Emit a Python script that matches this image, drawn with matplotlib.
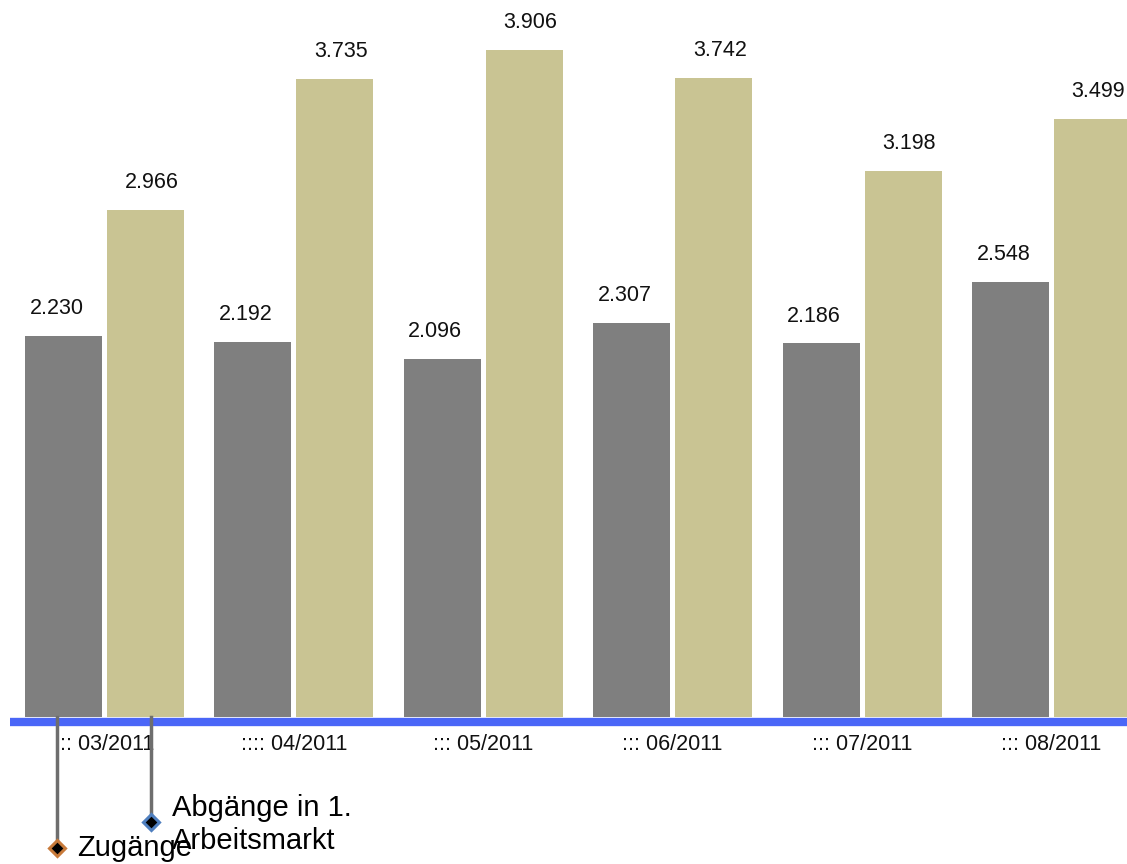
import matplotlib
matplotlib.use("Agg")
import matplotlib.pyplot as plt
from matplotlib.lines import Line2D
import numpy as np

plt.rcParams['font.family'] = ['Liberation Sans', 'DejaVu Sans']

months = ["::: 03/2011", ":::: 04/2011", "::: 05/2011", "::: 06/2011", "::: 07/2011", "::: 08/2011"]
zugaenge = [2230, 2192, 2096, 2307, 2186, 2548]
abgaenge = [2966, 3735, 3906, 3742, 3198, 3499]
value_labels_z = ["2.230", "2.192", "2.096", "2.307", "2.186", "2.548"]
value_labels_a = ["2.966", "3.735", "3.906", "3.742", "3.198", "3.499"]

W, H = 1127, 864
fig = plt.figure(figsize=(W / 100, H / 100), dpi=100)
fig.patch.set_facecolor("white")

# axes: left at 10px, right edge of figure, baseline at 717px from top
ax = fig.add_axes([10 / W, (H - 717) / H, (W - 10) / W, 717 / H])
x = np.arange(len(months))
bw = 0.4066
off = 0.2165
gray = "#7f7f7f"
khaki = "#c9c493"
ax.bar(x - off, zugaenge, width=bw, color=gray, zorder=2)
ax.bar(x + off, abgaenge, width=bw, color=khaki, zorder=2)

ax.set_xlim(-0.499, 5.399)
ax.set_ylim(0, 4196)

for xi, v, s in zip(x, zugaenge, value_labels_z):
    ax.annotate(s, (xi - off - 0.037, v), xytext=(0, 15.8), textcoords="offset points",
                ha="center", va="baseline", fontsize=15.5, color="#111111")
for xi, v, s in zip(x, abgaenge, value_labels_a):
    ax.annotate(s, (xi + off + 0.032, v), xytext=(0, 15.8), textcoords="offset points",
                ha="center", va="baseline", fontsize=15.5, color="#111111")

ax.set_xticks(x)
ax.set_xticklabels(months, fontsize=15.5, color="#111111")
ax.tick_params(axis="x", length=0, pad=12)
ax.set_yticks([])
for sp in ax.spines.values():
    sp.set_visible(False)

# blue base line
fig.add_artist(Line2D([10 / W, 1.0], [(H - 722) / H] * 2, transform=fig.transFigure,
                      color="#4a66f7", linewidth=6.0, solid_capstyle="butt", zorder=3))

# legend leader lines with diamond markers
def leader(xp, y0, y1, edge):
    fig.add_artist(Line2D([xp / W, xp / W], [(H - y0) / H, (H - y1) / H],
                          transform=fig.transFigure, color="#6e6e6e", linewidth=2.5, zorder=4))
    fig.add_artist(Line2D([xp / W], [(H - y1) / H], transform=fig.transFigure,
                          marker="D", markersize=8, markerfacecolor="black",
                          markeredgecolor=edge, markeredgewidth=2.2, linestyle="none", zorder=5))

leader(57, 717, 848, "#c87a3a")
leader(151, 717, 822, "#4f7fbf")

fig.text(77 / W, (H - 856) / H, "Zugänge", fontsize=21, color="black", va="baseline", ha="left")
fig.text(172 / W, (H - 816) / H, "Abgänge in 1.", fontsize=21, color="black", va="baseline", ha="left")
fig.text(172 / W, (H - 849) / H, "Arbeitsmarkt", fontsize=21, color="black", va="baseline", ha="left")

fig.savefig("out.png", dpi=100, facecolor="white")
